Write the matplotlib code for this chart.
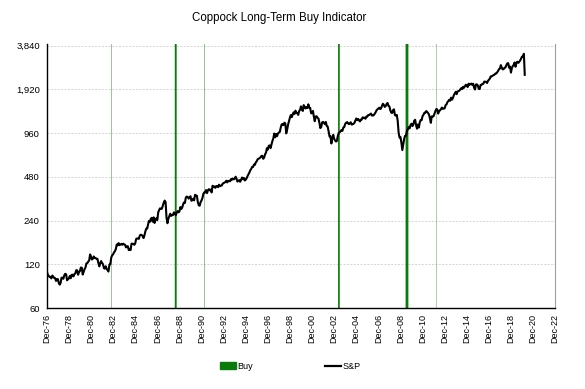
"""Coppock long-term buy indicator over the S&P 500 (log scale)."""
import matplotlib

matplotlib.use("Agg")
import matplotlib.pyplot as plt  # noqa: E402
import matplotlib.dates as mdates  # noqa: E402
import pandas as pd  # noqa: E402
from matplotlib.ticker import FixedLocator, FuncFormatter  # noqa: E402
from matplotlib.patches import Patch  # noqa: E402
from matplotlib.lines import Line2D  # noqa: E402

# monthly S&P closes, Dec-1976 .. Mar-2020
sp_start = "1976-12"
sp_close = [
    107.5,
    102.0, 99.8, 98.4, 98.4, 96.1, 100.5, 98.9, 96.8, 96.5, 92.3, 94.8, 95.1,  # 1977
    89.3, 87.0, 89.2, 97.0, 97.2, 95.5, 100.7, 103.3, 102.5, 93.2, 94.7, 96.1,  # 1978
    99.9, 96.3, 101.6, 101.8, 99.1, 102.9, 103.8, 109.3, 109.3, 101.8, 106.2, 107.9,  # 1979
    114.2, 113.7, 102.1, 106.3, 111.2, 114.2, 121.7, 122.4, 125.5, 127.5, 140.5, 135.8,  # 1980
    129.6, 131.3, 136.0, 132.8, 132.6, 131.2, 130.9, 122.8, 116.2, 121.9, 126.4, 122.6,  # 1981
    120.4, 113.1, 112.0, 116.4, 111.9, 109.6, 107.1, 119.5, 120.4, 133.7, 138.5, 140.6,  # 1982
    145.3, 148.1, 153.0, 164.4, 162.4, 168.1, 162.6, 164.4, 166.1, 163.6, 166.4, 164.9,  # 1983
    163.4, 157.1, 159.2, 160.1, 150.6, 153.2, 150.7, 166.7, 166.1, 166.1, 163.6, 167.2,  # 1984
    179.6, 181.2, 180.7, 179.8, 189.6, 191.9, 190.9, 188.6, 182.1, 189.8, 202.2, 211.3,  # 1985
    211.8, 226.9, 238.9, 235.5, 247.4, 250.8, 236.1, 252.9, 231.3, 244.0, 249.2, 242.2,  # 1986
    274.1, 284.2, 291.7, 288.4, 290.1, 304.0, 318.7, 329.8, 321.8, 251.8, 230.3, 247.1,  # 1987
    257.1, 267.8, 258.9, 261.3, 262.2, 273.5, 272.0, 261.5, 271.9, 279.0, 273.7, 277.7,  # 1988
    297.5, 288.9, 294.9, 309.6, 320.5, 318.0, 346.1, 351.5, 349.2, 340.4, 346.0, 353.4,  # 1989
    329.1, 331.9, 339.9, 330.8, 361.2, 358.0, 356.2, 322.6, 306.1, 304.0, 322.2, 330.2,  # 1990
    343.9, 367.1, 375.2, 375.3, 389.8, 371.2, 387.8, 395.4, 387.9, 392.5, 375.2, 417.1,  # 1991
    408.8, 412.7, 403.7, 415.0, 415.4, 408.1, 424.2, 414.0, 417.8, 418.7, 431.4, 435.7,  # 1992
    438.8, 443.4, 451.7, 440.2, 450.2, 450.5, 448.1, 463.6, 458.9, 467.8, 461.8, 466.5,  # 1993
    481.6, 467.1, 445.8, 450.9, 456.5, 444.3, 458.3, 475.5, 462.7, 472.4, 453.7, 459.3,  # 1994
    470.4, 487.4, 500.7, 514.7, 533.4, 544.8, 562.1, 561.9, 584.4, 581.5, 605.4, 615.9,  # 1995
    636.0, 640.4, 645.5, 654.2, 669.1, 670.6, 640.0, 652.0, 687.3, 705.3, 757.0, 740.7,  # 1996
    786.2, 790.8, 757.1, 801.3, 848.3, 885.1, 954.3, 899.5, 947.3, 914.6, 955.4, 970.4,  # 1997
    980.3, 1049.3, 1101.8, 1111.8, 1090.8, 1133.8, 1120.7, 957.3, 1017.0, 1098.7, 1163.6, 1229.2,  # 1998
    1279.6, 1238.3, 1286.4, 1335.2, 1301.8, 1372.7, 1328.7, 1320.4, 1282.7, 1362.9, 1389.1, 1469.3,  # 1999
    1394.5, 1366.4, 1498.6, 1452.4, 1420.6, 1454.6, 1430.8, 1517.7, 1436.5, 1429.4, 1315.2, 1320.3,  # 2000
    1366.0, 1239.9, 1160.3, 1249.5, 1255.8, 1224.4, 1211.2, 1133.6, 1040.9, 1059.8, 1139.5, 1148.1,  # 2001
    1130.2, 1106.7, 1147.4, 1076.9, 1067.1, 989.8, 911.6, 916.1, 815.3, 885.8, 936.3, 879.8,  # 2002
    855.7, 841.2, 848.2, 916.9, 963.6, 974.5, 990.3, 1008.0, 996.0, 1050.7, 1058.2, 1111.9,  # 2003
    1131.1, 1144.9, 1126.2, 1107.3, 1120.7, 1140.8, 1101.7, 1104.2, 1114.6, 1130.2, 1173.8, 1211.9,  # 2004
    1181.3, 1203.6, 1180.6, 1156.9, 1191.5, 1191.3, 1234.2, 1220.3, 1228.8, 1207.0, 1249.5, 1248.3,  # 2005
    1280.1, 1280.7, 1294.9, 1310.6, 1270.1, 1270.2, 1276.7, 1303.8, 1335.9, 1377.9, 1400.6, 1418.3,  # 2006
    1438.2, 1406.8, 1420.9, 1482.4, 1530.6, 1503.4, 1455.3, 1474.0, 1526.8, 1549.4, 1481.1, 1468.4,  # 2007
    1378.6, 1330.6, 1322.7, 1385.6, 1400.4, 1280.0, 1267.4, 1282.8, 1166.4, 968.8, 896.2, 903.3,  # 2008
    825.9, 735.1, 797.9, 872.8, 919.1, 919.3, 987.5, 1020.6, 1057.1, 1036.2, 1095.6, 1115.1,  # 2009
    1073.9, 1104.5, 1169.4, 1186.7, 1089.4, 1030.7, 1101.6, 1049.3, 1141.2, 1183.3, 1180.6, 1257.6,  # 2010
    1286.1, 1327.2, 1325.8, 1363.6, 1345.2, 1320.6, 1292.3, 1218.9, 1131.4, 1253.3, 1246.9, 1257.6,  # 2011
    1312.4, 1365.7, 1408.5, 1397.9, 1310.3, 1362.2, 1379.3, 1406.6, 1440.7, 1412.2, 1416.2, 1426.2,  # 2012
    1498.1, 1514.7, 1569.2, 1597.6, 1630.7, 1606.3, 1685.7, 1633.0, 1681.6, 1756.5, 1805.8, 1848.4,  # 2013
    1782.6, 1859.5, 1872.3, 1884.0, 1923.6, 1960.2, 1930.7, 2003.4, 1972.3, 2018.1, 2067.6, 2058.9,  # 2014
    1995.0, 2104.5, 2067.9, 2085.5, 2107.4, 2063.1, 2103.8, 1972.2, 1920.0, 2079.4, 2080.4, 2043.9,  # 2015
    1940.2, 1932.2, 2059.7, 2065.3, 2097.0, 2098.9, 2173.6, 2171.0, 2168.3, 2126.2, 2198.8, 2238.8,  # 2016
    2278.9, 2363.6, 2362.7, 2384.2, 2411.8, 2423.4, 2470.3, 2471.7, 2519.4, 2575.3, 2647.6, 2673.6,  # 2017
    2823.8, 2713.8, 2640.9, 2648.1, 2705.3, 2718.4, 2816.3, 2901.5, 2914.0, 2711.7, 2760.2, 2506.9,  # 2018
    2704.1, 2784.5, 2834.4, 2945.8, 2752.1, 2941.8, 2980.4, 2926.5, 2976.7, 3037.6, 3141.0, 3230.8,  # 2019
    3225.5, 3380.0, 2420.0,  # 2020
]

# periods the indicator was on a buy signal (start, end)
buy_start = ["1982-10-01", "1988-07-01", "1991-03-01", "2003-04-10", "2009-05-20", "2012-03-01"]
buy_end = ["1982-10-15", "1988-09-01", "1991-03-15", "2003-06-05", "2009-08-20", "2012-03-12"]

y_ticks = [60, 120, 240, 480, 960, 1920, 3840]

BUY_GREEN = "#0a7a0a"

plt.rcParams["font.family"] = ["Liberation Sans", "DejaVu Sans"]

dates = pd.period_range(sp_start, periods=len(sp_close), freq="M").to_timestamp()

fig = plt.figure(figsize=(5.85, 3.89), dpi=100)
ax = fig.add_axes([0.080, 0.208, 0.869, 0.679])

ax.set_yscale("log")
ax.set_ylim(60, 3950)
ax.set_xlim(pd.Timestamp("1976-12-01"), pd.Timestamp("2022-12-01"))

# buy periods as full-height bands; short ones render as faint slivers
for s, e in zip(pd.to_datetime(buy_start), pd.to_datetime(buy_end)):
    span = ax.axvspan(s, e, color=BUY_GREEN, lw=0, zorder=1)
    span.set_snap(False)

ax.plot(dates, sp_close, color="black", lw=1.5, zorder=3)

ax.yaxis.set_major_locator(FixedLocator(y_ticks))
ax.yaxis.set_minor_locator(FixedLocator([]))
ax.yaxis.set_major_formatter(FuncFormatter(lambda v, _: f"{v:,.0f}"))
ax.grid(axis="y", color="#d4d4d4", ls=(0, (2, 1.5)), lw=0.7)
ax.set_axisbelow(True)

ticks = pd.date_range("1976-12-01", "2022-12-01", freq="24MS")
ax.set_xticks(ticks)
ax.xaxis.set_major_formatter(mdates.DateFormatter("Dec-%y"))
ax.tick_params(axis="x", rotation=90, length=0, labelsize=6.5, pad=4)
ax.tick_params(axis="y", length=0, labelsize=6.8, pad=5)

ax.spines["top"].set_visible(False)
ax.spines["right"].set_color("#a0a0a0")
ax.spines["right"].set_linewidth(0.8)
ax.spines["left"].set_linewidth(1.0)
ax.spines["bottom"].set_linewidth(1.0)

fig.text(0.478, 0.953, "Coppock Long-Term Buy Indicator", ha="center", va="center", fontsize=8.3)

handles = [Patch(color=BUY_GREEN, label="Buy"),
           Line2D([], [], color="black", lw=1.6, label="S&P")]
fig.legend(handles=handles, loc="center", bbox_to_anchor=(0.496, 0.058), ncol=2, frameon=False,
           fontsize=6.5, columnspacing=8, handlelength=1.8, handletextpad=0.1,
           handleheight=0.8)

fig.savefig("out.png", dpi=100)
